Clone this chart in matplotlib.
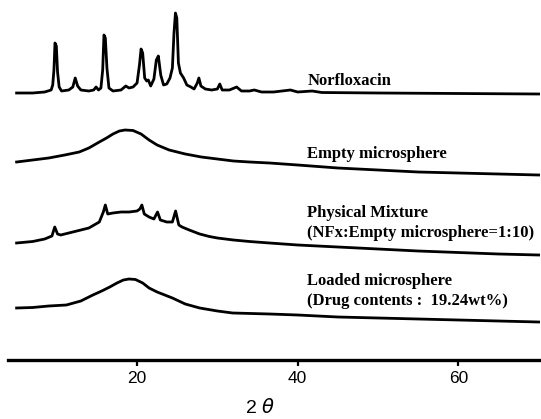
import matplotlib
matplotlib.use("Agg")
import matplotlib.pyplot as plt

# ---- data (2theta in degrees, intensity in arbitrary stacked units) ----
norflox_2theta = [5.0, 7.0, 8.5, 9.3, 9.5, 9.65, 9.78, 9.95, 10.1, 10.3, 10.6, 11.5, 12.0, 12.3, 12.6,
                  13.0, 14.0, 14.6, 14.9, 15.2, 15.5, 15.72, 15.88, 16.05, 16.25, 16.5, 17.0, 18.0,
                  18.6, 19.0, 19.5, 20.0, 20.3, 20.5, 20.7, 20.95, 21.2, 21.4, 21.7, 22.1, 22.4,
                  22.65, 22.95, 23.3, 23.7, 24.1, 24.4, 24.6, 24.78, 24.95, 25.15, 25.4, 25.8, 26.2,
                  26.7, 27.1, 27.5, 27.7, 27.95, 28.5, 29.3, 30.0, 30.3, 30.6, 31.5, 32.4, 33.0,
                  34.0, 34.6, 35.5, 37.0, 39.1, 40.0, 41.8, 43.0, 50.0, 60.0, 70.0]
norflox_int = [267, 267, 268, 270, 275, 290, 317, 314, 288, 273, 269, 270, 273, 282, 274,
               270, 269, 270, 273, 270, 272, 290, 325, 322, 292, 272, 269, 270,
               274, 272, 273, 277, 295, 311, 307, 282, 279, 280, 274, 281, 300,
               304, 285, 275, 276, 282, 292, 327, 347, 342, 297, 287, 282, 275,
               273, 271, 277, 282, 274, 271, 270, 271, 276, 270, 270, 273, 269,
               269, 270, 268, 268, 270, 268, 269, 267.5, 267, 266.5, 266]

empty_2theta = [5.0, 7.0, 9.0, 11.0, 12.8, 14.0, 15.3, 16.2, 17.0, 17.8, 18.5, 19.5, 20.5,
                21.5, 22.5, 24.0, 26.0, 28.0, 30.0, 32.0, 34.0, 36.5, 40.0, 45.0, 50.0,
                55.0, 60.0, 65.0, 70.0]
empty_int = [198, 200, 202, 205, 208, 212, 218, 222, 226, 229, 230, 229.5, 226,
             220, 215, 210, 206, 203, 201, 199, 198, 197, 195, 192, 190,
             188, 187, 186, 185]

mix_2theta = [5.0, 7.0, 8.5, 9.4, 9.75, 10.1, 10.5, 12.0, 14.0, 15.3, 15.8, 16.05, 16.35, 17.0,
              18.0, 19.0, 20.0, 20.35, 20.6, 20.9, 21.5, 22.1, 22.55, 22.9, 23.7, 24.4, 24.8,
              25.2, 25.6, 26.5, 27.8, 29.0, 30.0, 32.0, 34.0, 36.5, 40.0, 45.0, 50.0, 55.0,
              60.0, 65.0, 70.0]
mix_int = [117, 118.5, 121, 124, 133, 126, 125, 128, 132, 138, 148, 155, 146, 147,
           148, 148, 149, 151, 155, 146, 143, 141, 148, 140, 138, 138, 149,
           135, 133, 130, 126, 123.5, 122, 120, 118.5, 117, 115, 113, 111, 109,
           107.5, 106, 105]

loaded_2theta = [5.0, 7.0, 9.0, 11.2, 13.0, 14.5, 15.6, 16.6, 17.5, 18.3, 19.0, 19.8, 20.7,
                 21.5, 22.5, 24.4, 26.0, 27.8, 30.0, 31.9, 36.5, 40.0, 45.0, 50.0, 55.0,
                 60.0, 65.0, 70.0]
loaded_int = [52, 52.5, 54, 55, 59, 65, 69, 73, 77, 80, 81, 80.5, 77,
              72, 68, 62, 56, 52, 49, 47, 46, 45, 43, 42, 41,
              40, 39, 38]

label_lines = ["Norfloxacin", "Empty microsphere",
               "Physical Mixture", "(NFx:Empty microsphere=1:10)",
               "Loaded microsphere", "(Drug contents :  19.24wt%)"]
label_baselines = [275, 202, 143, 123, 75, 55]

xticks = [20, 40, 60]

# ---- figure ----
W, H = 541, 419
plt.rcParams["mathtext.fontset"] = "dejavusans"
fig = plt.figure(figsize=(W / 100, H / 100), dpi=100)
ax = fig.add_axes([8 / W, 59 / H, 533 / W, 360 / H])
ax.set_xlim(3.93, 70.3)
ax.set_ylim(0, 360)

lw = 2.0
for xs, ys in [(norflox_2theta, norflox_int), (empty_2theta, empty_int),
               (mix_2theta, mix_int), (loaded_2theta, loaded_int)]:
    ax.plot(xs, ys, color="black", lw=lw, solid_joinstyle="round")

for lab, ly in zip(label_lines, label_baselines):
    ax.text(41.2, ly, lab, ha="left", va="baseline", fontsize=12,
            family="Liberation Serif", fontweight="bold")

for s in ["left", "right", "top"]:
    ax.spines[s].set_visible(False)
ax.spines["bottom"].set_linewidth(2.4)
ax.set_yticks([])
ax.set_xticks(xticks)
ax.set_xticklabels([str(t) for t in xticks], family="Liberation Sans", fontsize=12.5)
ax.tick_params(axis="x", direction="out", length=4, width=1.6, pad=4)

fig.text(260 / W, 1 - 407 / H, "2 $\\theta$", ha="center", va="center",
         fontsize=14, family="Liberation Sans")

fig.savefig("out.png", dpi=100)
